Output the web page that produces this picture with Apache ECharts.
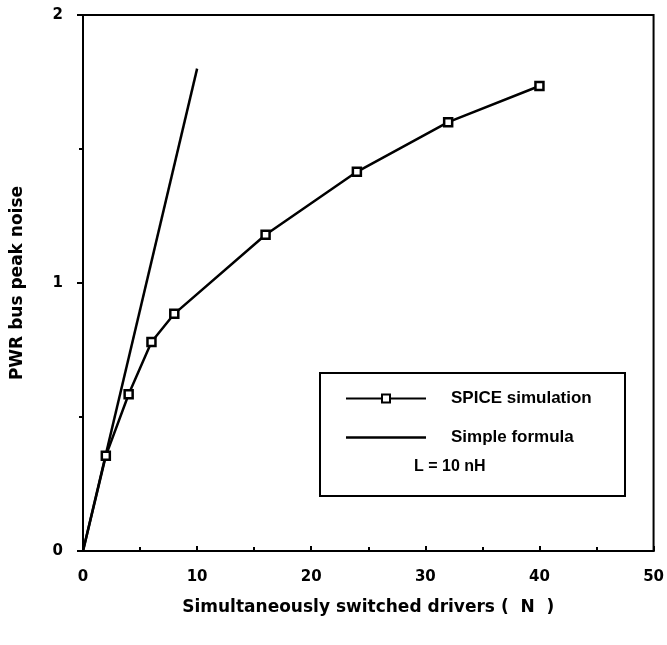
<!DOCTYPE html>
<html>
<head>
<meta charset="utf-8">
<script src="https://cdn.jsdelivr.net/npm/echarts@6/dist/echarts.min.js"></script>
<style>
  html, body { margin: 0; padding: 0; background: #fff; }
  #chart { width: 667px; height: 645px; }
</style>
</head>
<body>
<div id="chart"></div>
<script>
// data
var spiceN = [0, 2, 4, 6, 8, 16, 24, 32, 40];
var spiceNoise = [0, 0.355, 0.585, 0.78, 0.885, 1.18, 1.415, 1.60, 1.735];
var formulaN = [0, 10];
var formulaNoise = [0, 1.8];

var font = 'DejaVu Sans, Arial, sans-serif';
var font2 = 'Liberation Sans, Arial, sans-serif';

var spiceData = spiceN.map(function (n, i) {
    var p = { value: [n, spiceNoise[i]] };
    if (n === 0) p.symbol = 'none'; // curve starts at origin, no marker there
    return p;
});
var formulaData = formulaN.map(function (n, i) { return [n, formulaNoise[i]]; });

var chart = echarts.init(document.getElementById('chart'));
chart.setOption({
    backgroundColor: '#fff',
    animation: false,
    grid: {
        left: 83, top: 15, right: 10, bottom: 94,
        show: true, borderColor: '#000', borderWidth: 2
    },
    xAxis: {
        type: 'value', min: 0, max: 50, interval: 10,
        name: 'Simultaneously switched drivers (  N  )',
        nameLocation: 'middle', nameGap: 48,
        nameTextStyle: { color: '#000', fontFamily: font, fontWeight: 'bold', fontSize: 17 },
        axisLine: { lineStyle: { color: '#000', width: 2 } },
        axisTick: { inside: true, length: 5, lineStyle: { color: '#000', width: 2 } },
        minorTick: { show: true, splitNumber: 2, length: 4, lineStyle: { color: '#000', width: 2 } },
        axisLabel: { color: '#000', fontFamily: font, fontWeight: 'bold', fontSize: 15, margin: 19 },
        splitLine: { show: false }
    },
    yAxis: {
        type: 'value', min: 0, max: 2, interval: 1,
        name: 'PWR bus peak noise',
        nameLocation: 'middle', nameGap: 57,
        nameTextStyle: { color: '#000', fontFamily: font, fontWeight: 'bold', fontSize: 17 },
        axisLine: { lineStyle: { color: '#000', width: 2 } },
        axisTick: { length: 6, lineStyle: { color: '#000', width: 2 } },
        minorTick: { show: true, splitNumber: 2, length: 4, lineStyle: { color: '#000', width: 2 } },
        axisLabel: { color: '#000', fontFamily: font, fontWeight: 'bold', fontSize: 15, margin: 20 },
        splitLine: { show: false }
    },
    legend: {
        orient: 'vertical',
        left: 345, top: 390,
        padding: 0,
        itemGap: 22,
        itemWidth: 80, itemHeight: 10,
        textStyle: { color: '#000', fontFamily: font2, fontWeight: 'bold', fontSize: 17, padding: [0, 0, 0, 20] },
        data: [
            { name: 'SPICE simulation' },
            { name: 'Simple formula', icon: 'path://M0,0 L80,0 L80,2.5 L0,2.5 Z' }
        ]
    },
    graphic: [{
        type: 'rect',
        shape: { x: 320, y: 373, width: 305, height: 123 },
        style: { fill: 'none', stroke: '#000', lineWidth: 2 }
    }, {
        type: 'text', left: 414, top: 459,
        style: { text: 'L = 10 nH', fill: '#000', font: 'bold 16px ' + font2 }
    }],
    series: [{
        name: 'SPICE simulation',
        type: 'line',
        data: spiceData,
        symbol: 'rect', symbolSize: 8,
        lineStyle: { color: '#000', width: 2.5 },
        itemStyle: { color: '#fff', borderColor: '#000', borderWidth: 2.5 }
    }, {
        name: 'Simple formula',
        type: 'line',
        data: formulaData,
        symbol: 'none',
        lineStyle: { color: '#000', width: 2.5 },
        itemStyle: { color: '#000' }
    }]
});
</script>
</body>
</html>
